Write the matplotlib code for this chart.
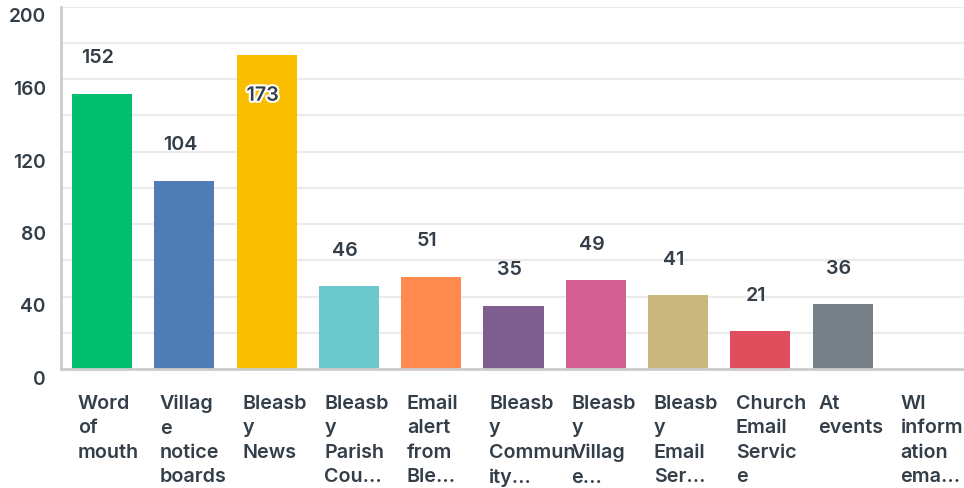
import matplotlib.pyplot as plt
import matplotlib.patheffects as pe
import matplotlib.transforms as mtransforms

# Survey answers: how people hear about things
categories = ['Word\nof\nmouth', 'Villag\ne\nnotice\nboards', 'Bleasb\ny\nNews',
              'Bleasb\ny\nParish\nCou...', 'Email\nalert\nfrom\nBle...',
              'Bleasb\ny\nCommun\nity...', 'Bleasb\ny\nVillag\ne...',
              'Bleasb\ny\nEmail\nSer...', 'Church\nEmail\nServic\ne',
              'At\nevents', 'WI\ninform\nation\nema...']
values = [152, 104, 173, 46, 51, 35, 49, 41, 21, 36, 0]
colors = ['#00bf6f', '#507cb6', '#f9be00', '#6bc8cd', '#ff8b4f', '#7f5f90',
          '#d25f90', '#c9b77d', '#e04e5e', '#768086', '#a0a0a0']
yticks = [0, 40, 80, 120, 160, 200]

plt.rcParams['font.family'] = ['Inter', 'DejaVu Sans']
txt = '#333e48'
fs = 14.2
fw = 'semibold'

fig = plt.figure(figsize=(9.64, 4.89), dpi=100)
ax = fig.add_axes([61 / 964, 119 / 489, 905 / 964, 362.5 / 489])

x = range(len(values))
bw = 0.73
ax.bar(x, values, width=bw, color=colors, zorder=3)

ax.set_xlim(-0.5, 10.5)
ax.set_ylim(0, 200)
for g in range(20, 201, 20):
    ax.axhline(g, color='#ebebeb', lw=1.6, zorder=1)

ax.set_yticks(yticks)
ax.set_yticklabels([str(t) for t in yticks], fontsize=fs - 0.4, color=txt, fontweight=fw)
ax.tick_params(axis='y', length=0, pad=11)
offset = mtransforms.ScaledTranslation(0, -8 / 100, fig.dpi_scale_trans)
for lab in ax.get_yticklabels():
    lab.set_transform(lab.get_transform() + offset)
ax.set_xticks([])

for s in ['top', 'right']:
    ax.spines[s].set_visible(False)
ax.spines['left'].set_color('#cccccc')
ax.spines['left'].set_linewidth(2)
ax.spines['bottom'].set_color('#cccccc')
ax.spines['bottom'].set_linewidth(2)
ax.spines['bottom'].set_zorder(4)

# category labels, left aligned under each bar
for i, c in enumerate(categories):
    ax.annotate(c, xy=(i - bw / 2, 0), xycoords=('data', 'data'),
                xytext=(4, -18), textcoords='offset points',
                ha='left', va='top', fontsize=fs, color=txt,
                fontweight=fw, linespacing=1.45, annotation_clip=False)

# value labels
for i, v in enumerate(values):
    if v == 0:
        continue
    if v > 160:
        ax.annotate(str(v), xy=(i, v), xytext=(-3, -29), textcoords='offset points',
                    ha='center', va='center', fontsize=fs, color=txt,
                    fontweight=fw, zorder=5,
                    path_effects=[pe.withStroke(linewidth=3, foreground='white')])
    else:
        ax.annotate(str(v), xy=(i, v), xytext=(-3, 26), textcoords='offset points',
                    ha='center', va='center', fontsize=fs, color=txt,
                    fontweight=fw, zorder=5)

fig.savefig('out.png', dpi=100)
